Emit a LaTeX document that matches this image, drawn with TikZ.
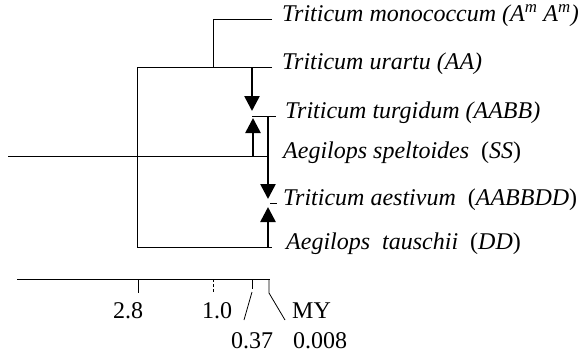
\documentclass[tikz,border=0pt]{standalone}
\usepackage{fontspec}
\setmainfont{Liberation Serif}
\usetikzlibrary{arrows.meta}
\begin{document}
\begin{tikzpicture}[x=1bp,y=-1bp,
  thinline/.style={line width=0.8bp},
  thickline/.style={line width=2.6bp},
  arr/.style={line width=2.6bp,-{Triangle[width=15bp,length=15bp]}},
  lab/.style={anchor=mid west, inner sep=0pt, font=\fontsize{24bp}{28bp}\selectfont\itshape},
  num/.style={anchor=base, inner sep=0pt, font=\fontsize{24bp}{28bp}\selectfont}]
\useasboundingbox (0,0) rectangle (587,354);
% tree coordinates
\coordinate (monoJ) at (213,19);
\coordinate (monoE) at (272,19);
\coordinate (urJ) at (213,67);
\coordinate (root) at (137,67);
\coordinate (urE) at (272,67);
\coordinate (tauL) at (137,247);
\coordinate (tauE) at (272,247);
\coordinate (a1s) at (252,67);
\coordinate (a1e) at (252,111);
\coordinate (turS) at (252,116);
\coordinate (turE) at (276,116);
\coordinate (a2s) at (253,156);
\coordinate (a2e) at (253,118);
\coordinate (spL) at (8,156);
\coordinate (spE) at (269,156);
\coordinate (a3s) at (268,116);
\coordinate (a3e) at (268,199);
\coordinate (aeS) at (270,203);
\coordinate (aeE) at (277,203);
\coordinate (a4s) at (268,247);
\coordinate (a4e) at (268,207);
% labels
\node[lab] (mono) at (282,19) {Triticum monococcum (A\textsuperscript{m} A\textsuperscript{m})};
\node[lab] (ur) at (282,67) {Triticum urartu (AA)};
\node[lab] (tur) at (285,116) {Triticum turgidum (AABB)};
\node[lab] (spe) at (283,156) {Aegilops speltoides\ \ \textup{(}SS\textup{)}};
\node[lab] (aes) at (283,203) {Triticum aestivum\ \ \textup{(}AABBDD\textup{)}};
\node[lab] (tau) at (286,247) {Aegilops\ \ tauschii\ \ \textup{(}DD\textup{)}};
% tree lines
\draw[thinline] (monoE) -- (monoJ) -- (urJ);
\draw[thinline] (urE) -- (root) -- (tauL) -- (tauE);
\draw[thinline] (spL) -- (spE);
\draw[thinline] (turS) -- (turE);
\draw[thinline] (aeS) -- (aeE);
\draw[arr] (a1s) -- (a1e);
\draw[arr] (a2s) -- (a2e);
\draw[arr] (a3s) -- (a3e);
\draw[arr] (a4s) -- (a4e);
% scale bar
\coordinate (sL) at (17,279);
\coordinate (sR) at (270,279);
\coordinate (t1) at (138,279);
\coordinate (t1b) at (138,293);
\coordinate (t2) at (213,279);
\coordinate (t2b) at (213,293);
\coordinate (t3) at (252,279);
\coordinate (t3b) at (252,289);
\coordinate (t3c) at (252,292);
\coordinate (t3d) at (244,320);
\coordinate (t4) at (269,279);
\coordinate (t4b) at (269,293);
\coordinate (t4c) at (285,320);
\draw[thinline] (sL) -- (sR);
\draw[thinline] (t1) -- (t1b);
\draw[thinline,dash pattern=on 3bp off 2bp] (t2) -- (t2b);
\draw[thinline] (t3) -- (t3b);
\draw[thinline] (t3c) -- (t3d);
\draw[thinline] (t4) -- (t4b) -- (t4c);
\node[num] (n28) at (128,318) {2.8};
\node[num] (n10) at (217,318) {1.0};
\node[num,anchor=base west] (my) at (292,318) {MY};
\node[num] (n037) at (252,348) {0.37};
\node[num,anchor=base west] (n0008) at (293,348) {0.008};
\end{tikzpicture}
\end{document}
